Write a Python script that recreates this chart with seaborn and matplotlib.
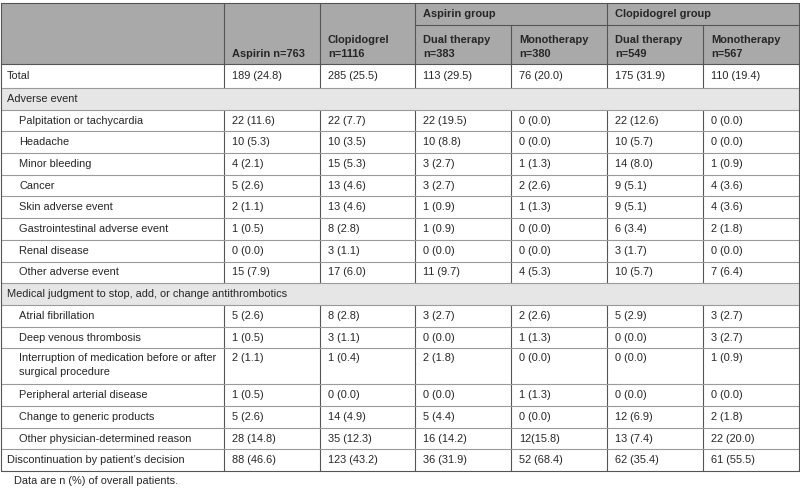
import matplotlib
matplotlib.use("Agg")
import matplotlib.pyplot as plt
import seaborn as sns

sns.set_theme(style="white")
plt.rcParams['font.family'] = ['Liberation Sans', 'DejaVu Sans']

# column headers
top_headers = ["", "Aspirin n=763", "Clopidogrel\nn=1116"]
group_headers = ["Aspirin group", "Clopidogrel group"]
sub_headers = ["Dual therapy\nn=383", "Monotherapy\nn=380", "Dual therapy\nn=549", "Monotherapy\nn=567"]

# rows: label, kind ('main', 'section', 'sub')
row_labels = [
    "Total",
    "Adverse event",
    "Palpitation or tachycardia",
    "Headache",
    "Minor bleeding",
    "Cancer",
    "Skin adverse event",
    "Gastrointestinal adverse event",
    "Renal disease",
    "Other adverse event",
    "Medical judgment to stop, add, or change antithrombotics",
    "Atrial fibrillation",
    "Deep venous thrombosis",
    "Interruption of medication before or after\nsurgical procedure",
    "Peripheral arterial disease",
    "Change to generic products",
    "Other physician-determined reason",
    "Discontinuation by patient\u2019s decision",
]
row_kinds = ["main", "section"] + ["sub"] * 8 + ["section"] + ["sub"] * 6 + ["main"]

aspirin = ["189 (24.8)", "", "22 (11.6)", "10 (5.3)", "4 (2.1)", "5 (2.6)", "2 (1.1)", "1 (0.5)",
           "0 (0.0)", "15 (7.9)", "", "5 (2.6)", "1 (0.5)", "2 (1.1)", "1 (0.5)", "5 (2.6)",
           "28 (14.8)", "88 (46.6)"]
clopidogrel = ["285 (25.5)", "", "22 (7.7)", "10 (3.5)", "15 (5.3)", "13 (4.6)", "13 (4.6)", "8 (2.8)",
               "3 (1.1)", "17 (6.0)", "", "8 (2.8)", "3 (1.1)", "1 (0.4)", "0 (0.0)", "14 (4.9)",
               "35 (12.3)", "123 (43.2)"]
asp_dual = ["113 (29.5)", "", "22 (19.5)", "10 (8.8)", "3 (2.7)", "3 (2.7)", "1 (0.9)", "1 (0.9)",
            "0 (0.0)", "11 (9.7)", "", "3 (2.7)", "0 (0.0)", "2 (1.8)", "0 (0.0)", "5 (4.4)",
            "16 (14.2)", "36 (31.9)"]
asp_mono = ["76 (20.0)", "", "0 (0.0)", "0 (0.0)", "1 (1.3)", "2 (2.6)", "1 (1.3)", "0 (0.0)",
            "0 (0.0)", "4 (5.3)", "", "2 (2.6)", "1 (1.3)", "0 (0.0)", "1 (1.3)", "0 (0.0)",
            "12(15.8)", "52 (68.4)"]
clo_dual = ["175 (31.9)", "", "22 (12.6)", "10 (5.7)", "14 (8.0)", "9 (5.1)", "9 (5.1)", "6 (3.4)",
            "3 (1.7)", "10 (5.7)", "", "5 (2.9)", "0 (0.0)", "0 (0.0)", "0 (0.0)", "12 (6.9)",
            "13 (7.4)", "62 (35.4)"]
clo_mono = ["110 (19.4)", "", "0 (0.0)", "0 (0.0)", "1 (0.9)", "4 (3.6)", "4 (3.6)", "2 (1.8)",
            "0 (0.0)", "7 (6.4)", "", "3 (2.7)", "3 (2.7)", "1 (0.9)", "0 (0.0)", "2 (1.8)",
            "22 (20.0)", "61 (55.5)"]
footnote = "Data are n (%) of overall patients."

columns = [aspirin, clopidogrel, asp_dual, asp_mono, clo_dual, clo_mono]

# layout (pixel units)
W, H = 800, 493
col_edges = [0.5, 224, 320, 415, 511, 607, 703, 799]
top, head_split, head_bottom = 3, 25, 64
line_c = "#555555"
grid_c = "#9a9a9a"
txt_c = "#262626"
fs = 7.9

fig = plt.figure(figsize=(W / 100, H / 100), dpi=100)
ax = fig.add_axes([0, 0, 1, 1])
ax.set_xlim(0, W)
ax.set_ylim(H, 0)
ax.axis("off")

# header background
ax.add_patch(plt.Rectangle((col_edges[0], top), col_edges[-1] - col_edges[0], head_bottom - top,
                           facecolor="#a9a9a9", edgecolor="none"))

# row geometry
heights = []
for lab, kind in zip(row_labels, row_kinds):
    if lab == "Total":
        heights.append(24)
    elif "\n" in lab:
        heights.append(36)
    else:
        heights.append(21.7)
edges = [head_bottom]
for h in heights:
    edges.append(edges[-1] + h)

for i, (lab, kind) in enumerate(zip(row_labels, row_kinds)):
    y0, y1 = edges[i], edges[i + 1]
    if kind == "section":
        ax.add_patch(plt.Rectangle((col_edges[0], y0), col_edges[-1] - col_edges[0], y1 - y0,
                                   facecolor="#e6e6e6", edgecolor="none"))
    x = 7 if kind != "sub" else 19
    if "\n" in lab:
        ax.text(x, y0 + 5, lab, fontsize=fs, color=txt_c, va="top", ha="left", linespacing=1.5)
        yv, va = y0 + 5, "top"
    else:
        ax.text(x, (y0 + y1) / 2, lab, fontsize=fs, color=txt_c, va="center", ha="left")
        yv, va = (y0 + y1) / 2, "center"
    if kind == "section":
        continue
    for j, col in enumerate(columns):
        ax.text(col_edges[j + 1] + 8, yv, col[i], fontsize=fs, color=txt_c, va=va, ha="left")
        ax.plot([col_edges[j + 1]] * 2, [y0, y1], color=line_c, lw=0.8)

# horizontal grid lines
for k, y in enumerate(edges[1:-1]):
    ax.plot([col_edges[0], col_edges[-1]], [y, y], color=grid_c, lw=0.8)
ax.plot([col_edges[0], col_edges[-1]], [edges[-1]] * 2, color=line_c, lw=0.8)
ax.plot([col_edges[0], col_edges[-1]], [top, top], color=line_c, lw=0.8)
ax.plot([col_edges[0], col_edges[-1]], [head_bottom, head_bottom], color=line_c, lw=0.8)
ax.plot([col_edges[3], col_edges[-1]], [head_split, head_split], color=line_c, lw=0.8)

# outer verticals
for x in (col_edges[0], col_edges[-1]):
    ax.plot([x, x], [top, edges[-1]], color=line_c, lw=0.8)
# header verticals
for x in (col_edges[1], col_edges[2], col_edges[3], col_edges[5]):
    ax.plot([x, x], [top, head_bottom], color=line_c, lw=0.8)
for x in (col_edges[4], col_edges[6]):
    ax.plot([x, x], [head_split, head_bottom], color=line_c, lw=0.8)

# header text
hdr = dict(fontsize=fs, color=txt_c, fontweight="bold", ha="left", va="bottom", linespacing=1.45)
ax.text(col_edges[1] + 8, 59, top_headers[1], **hdr)
ax.text(col_edges[2] + 8, 59, top_headers[2], **hdr)
for g, gx in zip(group_headers, (col_edges[3], col_edges[5])):
    ax.text(gx + 8, (top + head_split) / 2, g, fontsize=fs, color=txt_c, fontweight="bold",
            ha="left", va="center")
for j, s in enumerate(sub_headers):
    ax.text(col_edges[3 + j] + 8, 59, s, **hdr)

ax.text(14, 481, footnote, fontsize=fs, color=txt_c, ha="left", va="center")

fig.savefig("out.png", dpi=100)
